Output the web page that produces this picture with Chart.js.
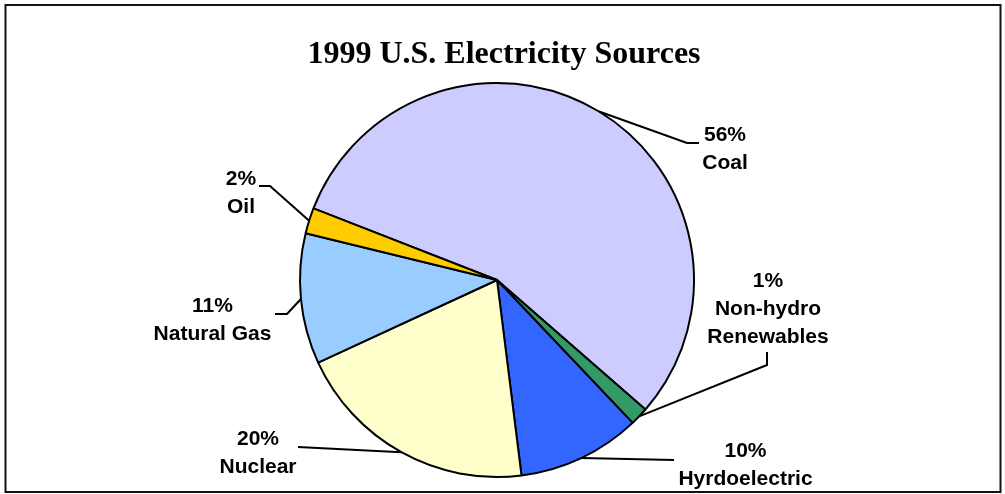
<!DOCTYPE html>
<html>
<head>
<meta charset="utf-8">
<script src="https://cdn.jsdelivr.net/npm/chart.js@4/dist/chart.umd.min.js"></script>
<style>
  body { margin: 0; background: #fff; }
</style>
</head>
<body>
<canvas id="chart" width="1005" height="494"></canvas>
<script>
var ctx = document.getElementById("chart").getContext("2d");

var sources = ["Coal", "Non-hydro Renewables", "Hyrdoelectric", "Nuclear", "Natural Gas", "Oil"];
// slice sizes (percent of total)
var shares = [55.5, 1.5, 10.1, 20.1, 10.7, 2.1];
// percentages as printed on the labels
var shownPct = ["56%", "1%", "10%", "20%", "11%", "2%"];
var sliceColors = ["#CCCCFF", "#339966", "#3366FF", "#FFFFCC", "#99CCFF", "#FFCC00"];

// label text lines per slice, under the percentage
var labelLines = [
  ["Coal"],
  ["Non-hydro", "Renewables"],
  ["Hyrdoelectric"],
  ["Nuclear"],
  ["Natural Gas"],
  ["Oil"]
];

// where each label sits and how its leader line bends
var labelPos = [
  { x: 725, y: 140.5, path: [[687, 143], [699, 143]] },
  { x: 768, y: 286.5, path: [[767, 365], [767, 352]] },
  { x: 745.5, y: 456.5, path: [[674, 460]] },
  { x: 258, y: 445, path: [[298, 447]] },
  { x: 212.5, y: 312, path: [[287, 314], [275, 314]] },
  { x: 241, y: 184.5, path: [[270, 186], [259, 186]] }
];

var decor = {
  id: "decor",
  beforeDraw: function (chart) {
    var c = chart.ctx;
    c.save();
    c.fillStyle = "#fff";
    c.fillRect(0, 0, chart.width, chart.height);
    c.strokeStyle = "#111";
    c.lineWidth = 2;
    c.strokeRect(5.5, 5, 995, 487);
    c.restore();
  },
  afterDraw: function (chart) {
    var c = chart.ctx;
    var arcs = chart.getDatasetMeta(0).data;
    c.save();
    // title
    c.fillStyle = "#000";
    c.font = "bold 32px 'Liberation Serif', 'Times New Roman', serif";
    c.textAlign = "center";
    c.textBaseline = "alphabetic";
    c.fillText("1999 U.S. Electricity Sources", 504, 63);

    // leader lines
    c.strokeStyle = "#000";
    c.lineWidth = 2;
    arcs.forEach(function (a, i) {
      var mid = (a.startAngle + a.endAngle) / 2;
      var sx = a.x + Math.cos(mid) * a.outerRadius;
      var sy = a.y + Math.sin(mid) * a.outerRadius;
      c.beginPath();
      c.moveTo(sx, sy);
      labelPos[i].path.forEach(function (p) { c.lineTo(p[0], p[1]); });
      c.stroke();
    });

    // labels
    c.font = "bold 21px 'Liberation Sans', Arial, sans-serif";
    arcs.forEach(function (a, i) {
      var lines = [shownPct[i]].concat(labelLines[i]);
      lines.forEach(function (t, k) {
        c.fillText(t, labelPos[i].x, labelPos[i].y + k * 28);
      });
    });
    c.restore();
  }
};

var chart = new Chart(ctx, {
  type: "pie",
  data: {
    labels: sources,
    datasets: [
      {
        data: shares,
        backgroundColor: sliceColors,
        borderColor: "#000",
        borderWidth: 2,
        hoverOffset: 0
      }
    ]
  },
  options: {
    responsive: false,
    animation: false,
    rotation: 291.3,
    layout: { padding: { top: 82, bottom: 16, left: 0, right: 11 } },
    plugins: {
      legend: { display: false },
      tooltip: { enabled: false }
    }
  },
  plugins: [decor]
});
</script>
</body>
</html>
